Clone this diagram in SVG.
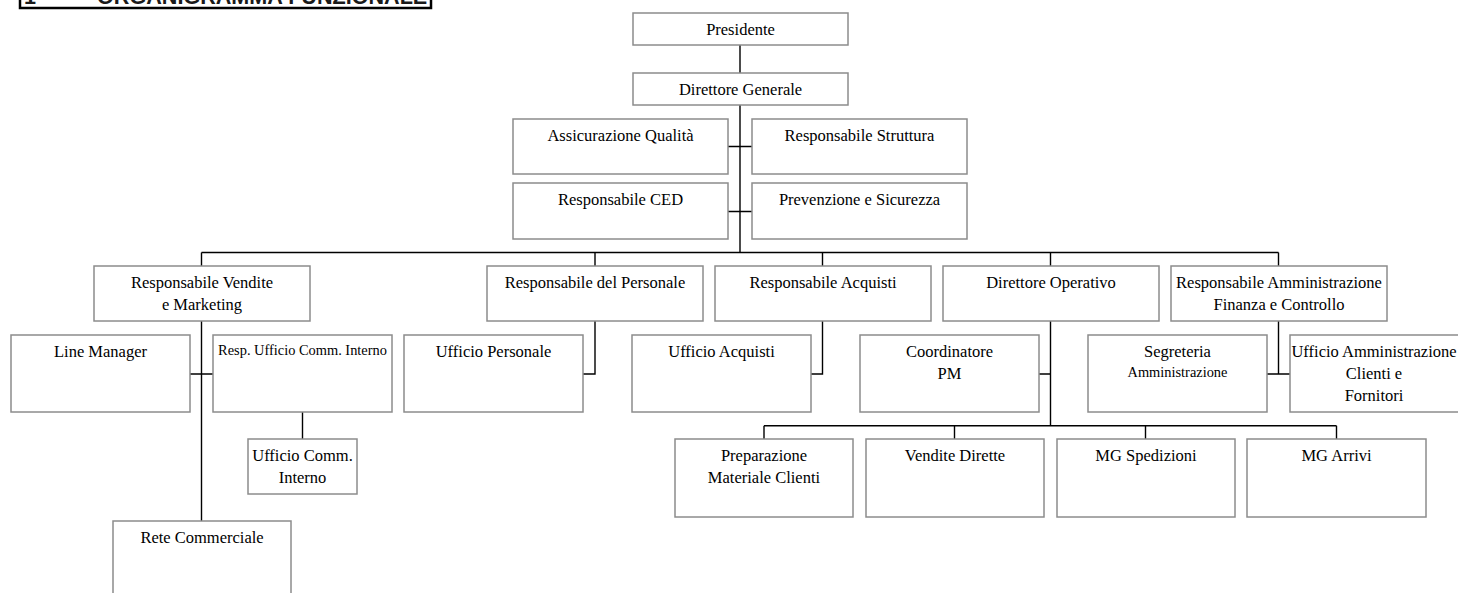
<svg xmlns="http://www.w3.org/2000/svg" width="1458" height="593" viewBox="0 0 1458 593">
<style>
.b{fill:#fff;stroke:#8c8c8c;stroke-width:1.5}
.t{font-family:"Liberation Serif","Times New Roman",serif;font-size:16.5px;fill:#000;text-anchor:middle}
.s{font-size:14.4px}
.c{fill:none;stroke:#000;stroke-width:1.4}
.h{font-family:"Liberation Sans",Arial,sans-serif;font-weight:bold;font-size:21.6px;fill:#1a1a1a}
</style>
<rect width="1458" height="593" fill="#fff"/>
<g id="header">
<rect x="20" y="-20" width="411" height="28" fill="none" stroke="#000" stroke-width="2.5"/>
<text class="h" x="24" y="4">1</text>
<text class="h" x="97" y="4">ORGANIGRAMMA FUNZIONALE</text>
</g>
<g id="connectors" class="c">
<path class="c" d="M740,45V73M740,105V252.5M728,146.5H752M728,211.5H752"/>
<path class="c" d="M201.5,252.5H1278.5M201.5,252.5V266M595,252.5V266M822.5,252.5V266M1050.5,252.5V266M1278.5,252.5V266"/>
<path class="c" d="M201.5,321V521M190,374H213M302.5,412V439"/>
<path class="c" d="M595,321V374H583M822.5,321V374H811"/>
<path class="c" d="M1050.5,321V425.7M1039,374H1050.5M764,425.7H1336.5M764,425.7V439M954.5,425.7V439M1145.5,425.7V439M1336.5,425.7V439"/>
<path class="c" d="M1278.5,321V374M1267,374H1290"/>
</g>
<g id="presidente"><rect class="b" x="633" y="13" width="215" height="32"/><text class="t" x="740.5" y="35">Presidente</text></g>
<g id="direttore-generale"><rect class="b" x="633" y="73" width="215" height="32"/><text class="t" x="740.5" y="95">Direttore Generale</text></g>
<g id="assicurazione-qualita"><rect class="b" x="513" y="119" width="215" height="55"/><text class="t" x="620.5" y="141">Assicurazione Qualità</text></g>
<g id="responsabile-struttura"><rect class="b" x="752" y="119" width="215" height="55"/><text class="t" x="859.5" y="141">Responsabile Struttura</text></g>
<g id="responsabile-ced"><rect class="b" x="513" y="183" width="215" height="56"/><text class="t" x="620.5" y="205">Responsabile CED</text></g>
<g id="prevenzione-sicurezza"><rect class="b" x="752" y="183" width="215" height="56"/><text class="t" x="859.5" y="205">Prevenzione e Sicurezza</text></g>
<g id="resp-vendite"><rect class="b" x="94" y="266" width="216" height="55"/><text class="t" x="202" y="288">Responsabile Vendite</text><text class="t" x="202" y="310">e Marketing</text></g>
<g id="resp-personale"><rect class="b" x="487" y="266" width="216" height="55"/><text class="t" x="595" y="288">Responsabile del Personale</text></g>
<g id="resp-acquisti"><rect class="b" x="715" y="266" width="216" height="55"/><text class="t" x="823" y="288">Responsabile Acquisti</text></g>
<g id="direttore-operativo"><rect class="b" x="943" y="266" width="216" height="55"/><text class="t" x="1051" y="288">Direttore Operativo</text></g>
<g id="resp-amministrazione"><rect class="b" x="1171" y="266" width="216" height="55"/><text class="t" x="1279" y="288">Responsabile Amministrazione</text><text class="t" x="1279" y="310">Finanza e Controllo</text></g>
<g id="line-manager"><rect class="b" x="11" y="335" width="179" height="77"/><text class="t" x="100.5" y="357">Line Manager</text></g>
<g id="resp-ufficio-comm"><rect class="b" x="213" y="335" width="179" height="77"/><text class="t s" x="302.5" y="355">Resp. Ufficio Comm. Interno</text></g>
<g id="ufficio-comm-interno"><rect class="b" x="248" y="439" width="109" height="55"/><text class="t" x="302.5" y="461">Ufficio Comm.</text><text class="t" x="302.5" y="483">Interno</text></g>
<g id="rete-commerciale"><rect class="b" x="113" y="521" width="178" height="90"/><text class="t" x="202" y="543">Rete Commerciale</text></g>
<g id="ufficio-personale"><rect class="b" x="404" y="335" width="179" height="77"/><text class="t" x="493.5" y="357">Ufficio Personale</text></g>
<g id="ufficio-acquisti"><rect class="b" x="632" y="335" width="179" height="77"/><text class="t" x="721.5" y="357">Ufficio Acquisti</text></g>
<g id="coordinatore-pm"><rect class="b" x="860" y="335" width="179" height="77"/><text class="t" x="949.5" y="357">Coordinatore</text><text class="t" x="949.5" y="379">PM</text></g>
<g id="segreteria"><rect class="b" x="1088" y="335" width="179" height="77"/><text class="t" x="1177.5" y="357">Segreteria</text><text class="t s" x="1177.5" y="377">Amministrazione</text></g>
<g id="ufficio-amministrazione"><rect class="b" x="1290" y="335" width="180" height="77"/><text class="t" x="1374" y="357">Ufficio Amministrazione</text><text class="t" x="1374" y="379">Clienti e</text><text class="t" x="1374" y="401">Fornitori</text></g>
<g id="preparazione"><rect class="b" x="675" y="439" width="178" height="78"/><text class="t" x="764" y="461">Preparazione</text><text class="t" x="764" y="483">Materiale Clienti</text></g>
<g id="vendite-dirette"><rect class="b" x="866" y="439" width="178" height="78"/><text class="t" x="955" y="461">Vendite Dirette</text></g>
<g id="mg-spedizioni"><rect class="b" x="1057" y="439" width="178" height="78"/><text class="t" x="1146" y="461">MG Spedizioni</text></g>
<g id="mg-arrivi"><rect class="b" x="1247" y="439" width="179" height="78"/><text class="t" x="1336.5" y="461">MG Arrivi</text></g>
</svg>
